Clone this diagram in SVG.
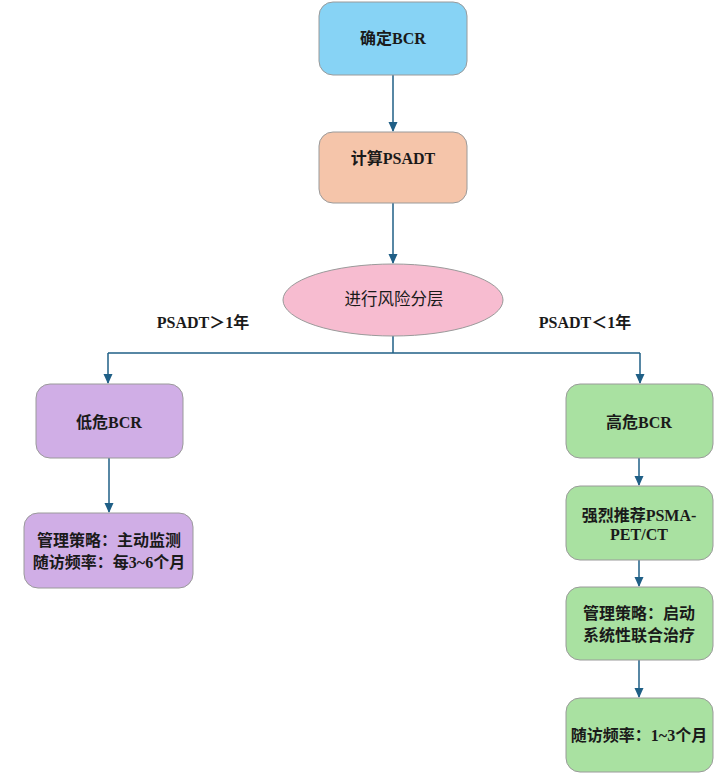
<svg xmlns="http://www.w3.org/2000/svg" width="719" height="779" viewBox="0 0 719 779">
<defs>
<marker id="ah" markerWidth="10" markerHeight="10" refX="9" refY="5" orient="auto" markerUnits="userSpaceOnUse">
<path d="M0,0.5 L10,5 L0,9.5 Z" fill="#1f5f86"/>
</marker>
</defs>
<style>
.box{stroke:#9a9a9a;stroke-width:1}
.t{font-family:"Liberation Serif","Noto Sans CJK SC",serif;font-weight:bold;font-size:16px;fill:#1a1a1a;text-anchor:middle;dominant-baseline:central}
.n{font-weight:normal;font-size:16.5px}
.c{fill:none;stroke:#1f5f86;stroke-width:1.5}
</style>
<rect width="719" height="779" fill="#ffffff"/>
<g id="connectors">
<path class="c" d="M393,75 V131" marker-end="url(#ah)"/>
<path class="c" d="M393,203 V263" marker-end="url(#ah)"/>
<path class="c" d="M393,336 V353"/>
<path class="c" d="M108,353 H640"/>
<path class="c" d="M108,353 V383" marker-end="url(#ah)"/>
<path class="c" d="M640,353 V383" marker-end="url(#ah)"/>
<path class="c" d="M109,458 V512" marker-end="url(#ah)"/>
<path class="c" d="M639,458 V485" marker-end="url(#ah)"/>
<path class="c" d="M639,560 V586" marker-end="url(#ah)"/>
<path class="c" d="M639,660 V697" marker-end="url(#ah)"/>
</g>
<g id="n1">
<rect class="box" x="319" y="2" width="148" height="73" rx="14" fill="#87d3f5"/>
<text class="t" x="393" y="38">确定BCR</text>
</g>
<g id="n2">
<rect class="box" x="319" y="132" width="148" height="71" rx="14" fill="#f5c5aa"/>
<text class="t" x="393" y="158">计算PSADT</text>
</g>
<g id="n3">
<ellipse class="box" cx="393" cy="300" rx="110" ry="36" fill="#f7bcd0"/>
<text class="t n" x="394" y="299">进行风险分层</text>
</g>
<g id="lbl1"><text class="t" x="203" y="322">PSADT＞1年</text></g>
<g id="lbl2"><text class="t" x="585" y="322">PSADT＜1年</text></g>
<g id="n4">
<rect class="box" x="36" y="384" width="147" height="74" rx="14" fill="#d0aee6"/>
<text class="t" x="109" y="422">低危BCR</text>
</g>
<g id="n5">
<rect class="box" x="24" y="513" width="169" height="75" rx="14" fill="#d0aee6"/>
<text class="t" x="109" y="540">管理策略：主动监测</text>
<text class="t" x="109" y="562">随访频率：每3~6个月</text>
</g>
<g id="n6">
<rect class="box" x="566" y="384" width="147" height="74" rx="14" fill="#a9e1a1"/>
<text class="t" x="639" y="422">高危BCR</text>
</g>
<g id="n7">
<rect class="box" x="566" y="486" width="147" height="74" rx="14" fill="#a9e1a1"/>
<text class="t" x="639" y="515">强烈推荐PSMA-</text>
<text class="t" x="639" y="534">PET/CT</text>
</g>
<g id="n8">
<rect class="box" x="566" y="587" width="147" height="73" rx="14" fill="#a9e1a1"/>
<text class="t" x="639" y="613">管理策略：启动</text>
<text class="t" x="639" y="635">系统性联合治疗</text>
</g>
<g id="n9">
<rect class="box" x="566" y="698" width="147" height="74" rx="14" fill="#a9e1a1"/>
<text class="t" x="639" y="735">随访频率：1~3个月</text>
</g>
</svg>
